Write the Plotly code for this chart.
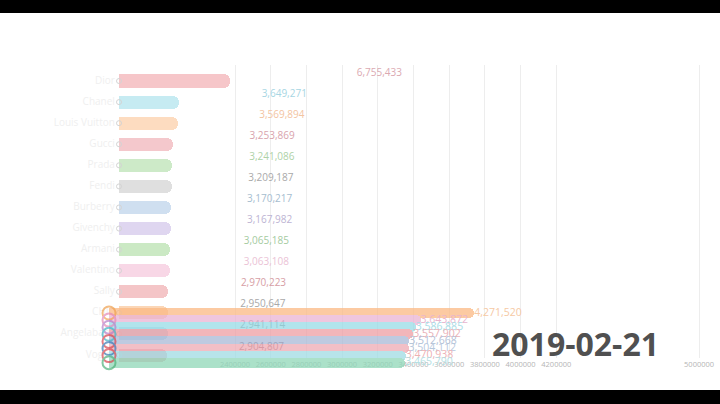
import plotly.graph_objects as go

W, H = 720, 404

# ---------------- data ----------------
# fading layer (upper ranking)
names_a = ["Dior", "Chanel", "Louis Vuitton", "Gucci", "Prada", "Fendi", "Burberry",
           "Givenchy", "Armani", "Valentino", "Sally", "CHIC", "Angelababy", "Vogue"]
values_a = [6755433, 3649271, 3569894, 3253869, 3241086, 3209187, 3170217,
            3167982, 3065185, 3063108, 2970223, 2950647, 2941114, 2904807]
bar_colors_a = ["#f6c6c9", "#c6ebf2", "#fddcc0", "#f4c8cc", "#cdeac8", "#dfdfdf", "#cfdff0",
                "#dfd6f0", "#cbe9c4", "#f8d7e6", "#f4c5c7", "#fbd6b6", "#c4e4ee", "#f1b9bc"]
label_colors_a = ["#dba9b1", "#a7d6e3", "#f3c4a2", "#d9a3ad", "#aed2a7", "#a9a9a9", "#a6bdcf",
                  "#bdb4d3", "#a5cb9f", "#ebc3d6", "#d79ea5", "#a9a9a9", "#8c8c8c", "#8e6d74"]

# incoming layer (compressed group at the bottom)
values_b = [4271520, 3643872, 3586885, 3557902, 3512668, 3504112, 3470938, 3465790]
bar_colors_b = ["#fbb984", "#eab3d3", "#98dbe6", "#ee9ea4", "#a9b9d6", "#eeaab4", "#9fdce4", "#8fd7b8"]
ring_colors_b = ["#f0a04e", "#e58ab8", "#b77fc9", "#3fb3c4", "#d8454f", "#3b78b5", "#d8454f", "#4fb27a"]
label_colors_b = ["#f6c9a4", "#e9b5cf", "#a9dce6", "#eab0b6", "#b2c0d6", "#b6c8dd", "#eeb0b3", "#b5e0e3"]

grid_ticks = [2400000, 2600000, 2800000, 3000000, 3200000, 3400000, 3600000,
              3800000, 4000000, 4200000, 5000000]
date_label = "2019-02-21"


# ---------------- helpers (pixel layout -> axis ranges) ----------------
def x_range(origin_px, px_per_unit):
    return [-origin_px / px_per_unit, (W - origin_px) / px_per_unit]


def y_range(first_px, step_px):
    # row 0 at first_px from the top, rows increase downward
    return [(H - first_px) / step_px, -first_px / step_px]


fmt = lambda v: f"{v:,}"
rows_a = list(range(len(values_a)))
rows_b = list(range(len(values_b)))

fig = go.Figure()

# subplot 1: the grid axis (drawn first, underneath)
fig.add_trace(go.Scatter(x=[grid_ticks[0]], y=[0], mode="markers",
                         marker=dict(opacity=0), hoverinfo="skip", showlegend=False,
                         xaxis="x", yaxis="y"))

# subplot 2: fading bars
fig.add_trace(go.Bar(x=values_a, y=rows_a, orientation="h", width=0.62,
                     marker=dict(color=bar_colors_a, cornerradius=6, line=dict(width=0)),
                     xaxis="x2", yaxis="y2", showlegend=False, hoverinfo="skip"))
fig.add_trace(go.Scatter(x=[0] * len(rows_a), y=rows_a, mode="markers+text",
                         text=names_a, textposition="middle left",
                         textfont=dict(family="Open Sans", size=10, color="#efefef"),
                         marker=dict(symbol="circle-open", size=5, color="#d4d4d4",
                                     line=dict(width=1)),
                         xaxis="x2", yaxis="y2", showlegend=False, hoverinfo="skip",
                         cliponaxis=False))

# subplot 3: value labels of the fading layer
fig.add_trace(go.Scatter(x=values_a, y=rows_a, mode="text",
                         text=[fmt(v) for v in values_a], textposition="middle right",
                         textfont=dict(family="Open Sans", size=10, color=label_colors_a),
                         xaxis="x3", yaxis="y3", showlegend=False, hoverinfo="skip",
                         cliponaxis=False))

# subplot 4: compressed incoming bars
fig.add_trace(go.Bar(x=values_b, y=rows_b, orientation="h", width=1.4,
                     marker=dict(color=bar_colors_b, cornerradius=5, line=dict(width=0)),
                     opacity=0.75,
                     xaxis="x4", yaxis="y4", showlegend=False, hoverinfo="skip"))
fig.add_trace(go.Scatter(x=[0] * len(rows_b), y=rows_b, mode="markers",
                         marker=dict(symbol="circle-open", size=13, color=ring_colors_b,
                                     line=dict(width=2)),
                         opacity=0.7,
                         xaxis="x4", yaxis="y4", showlegend=False, hoverinfo="skip",
                         cliponaxis=False))
fig.add_trace(go.Scatter(x=values_b, y=rows_b, mode="text",
                         text=[fmt(v) for v in values_b], textposition="middle right",
                         textfont=dict(family="Open Sans", size=10.5, color=label_colors_b),
                         xaxis="x4", yaxis="y4", showlegend=False, hoverinfo="skip",
                         cliponaxis=False))

hidden = dict(visible=False, showgrid=False, zeroline=False, fixedrange=True)

fig.update_layout(
    width=W, height=H,
    margin=dict(l=0, r=0, t=0, b=0),
    paper_bgcolor="white", plot_bgcolor="rgba(0,0,0,0)",
    bargap=0,
    xaxis=dict(domain=[0, 1], anchor="y",
               range=x_range(235 - 2.4 * 178.5, 178.5e-6),
               tickvals=grid_ticks, ticktext=[str(t) for t in grid_ticks],
               showgrid=True, gridcolor="#ededed", gridwidth=1,
               zeroline=False, showline=False, ticks="",
               tickfont=dict(family="Open Sans", size=7.5, color="#b5b5b5"),
               fixedrange=True),
    yaxis=dict(domain=[(H - 358) / H, (H - 65) / H], range=[0, 1], **hidden),
    xaxis2=dict(domain=[0, 1], anchor="y2", range=x_range(119, 16.5e-6), **hidden),
    yaxis2=dict(domain=[0, 1], anchor="x2", range=y_range(81, 21.08), **hidden),
    xaxis3=dict(domain=[0, 1], anchor="y3", range=x_range(150, 30.6e-6), **hidden),
    yaxis3=dict(domain=[0, 1], anchor="x3", range=y_range(73, 21.08), **hidden),
    xaxis4=dict(domain=[0, 1], anchor="y4", range=x_range(109, 85.5e-6), **hidden),
    yaxis4=dict(domain=[0, 1], anchor="x4", range=y_range(313, 7.1), **hidden),
    annotations=[dict(text=date_label, xref="paper", yref="paper",
                      x=575 / W, y=(H - 343) / H, xanchor="center", yanchor="middle",
                      showarrow=False,
                      font=dict(family="Open Sans", size=32, color="#505050", weight=700))],
    shapes=[
        dict(type="rect", xref="paper", yref="paper", x0=0, x1=1, y0=(H - 13) / H, y1=1,
             fillcolor="black", line=dict(width=0), layer="above"),
        dict(type="rect", xref="paper", yref="paper", x0=0, x1=1, y0=0, y1=(H - 390) / H,
             fillcolor="black", line=dict(width=0), layer="above"),
    ],
)

fig.write_html("out.html")
